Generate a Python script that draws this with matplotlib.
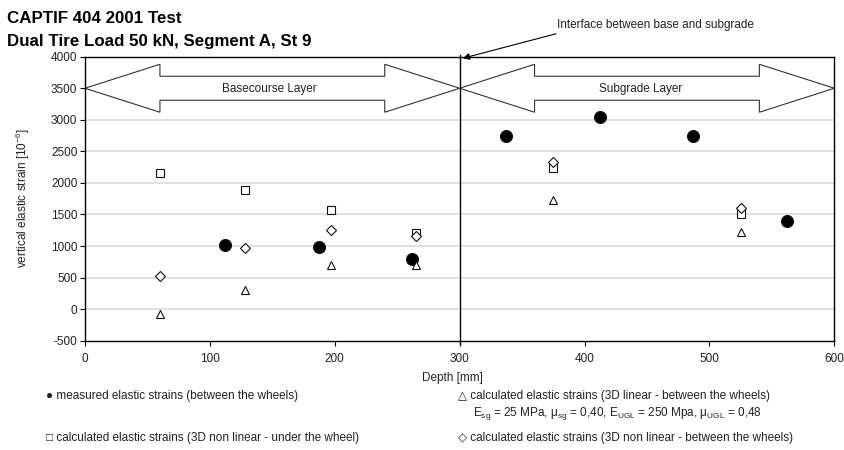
import matplotlib
matplotlib.use("Agg")
from matplotlib import pyplot as plt
import numpy as np

plt.rcParams['font.family'] = ['Liberation Sans', 'DejaVu Sans']
plt.rcParams['mathtext.fontset'] = 'custom'
plt.rcParams['mathtext.rm'] = 'Liberation Sans'
plt.rcParams['mathtext.it'] = 'Liberation Sans:italic'
plt.rcParams['axes.unicode_minus'] = False

# measured strains, between the wheels
measured_depth = [112, 187, 262, 337, 412, 487, 562]
measured_strain = [1010, 985, 800, 2745, 3050, 2745, 1400]

# calculated strains, all at the same depths
calc_depth = [60, 128, 197, 265, 375, 525]
linear_between = [-70, 300, 700, 700, 1730, 1230]
nonlinear_under = [2150, 1890, 1570, 1210, 2240, 1500]
nonlinear_between = [525, 975, 1250, 1160, 2330, 1595]

x_ticks = [0, 100, 200, 300, 400, 500, 600]
y_ticks = [-500, 0, 500, 1000, 1500, 2000, 2500, 3000, 3500, 4000]

W, H = 844, 450
TXT = '#222222'
FS = 8.5


def fx(x):
    return x / W


def fy(y):
    return 1 - y / H


def block_arrow(ax, x0, x1, yc, head_len=60, head_half=380, shaft_half=190):
    """ Double headed block arrow like the Excel autoshape """
    xs = [x0, x0 + head_len, x0 + head_len, x1 - head_len, x1 - head_len, x1,
          x1 - head_len, x1 - head_len, x0 + head_len, x0 + head_len, x0]
    ys = [yc, yc + head_half, yc + shaft_half, yc + shaft_half, yc + head_half, yc,
          yc - head_half, yc - shaft_half, yc - shaft_half, yc - head_half, yc]
    ax.fill(xs, ys, facecolor='white', edgecolor='#333333', lw=0.8, zorder=2)


fig = plt.figure(figsize=(W / 100, H / 100), dpi=100)
ax = fig.add_axes([fx(85), fy(340.7), (834.3 - 85) / W, (340.7 - 56.7) / H])

ax.set_xlim(0, 600)
ax.set_ylim(-500, 4000)
ax.set_xticks(x_ticks)
ax.set_yticks(y_ticks)
for v in y_ticks[1:-1]:
    ax.axhline(v, color='#dadada', lw=1.2, zorder=0)

block_arrow(ax, 0, 300, 3500)
block_arrow(ax, 300, 600, 3500)
ax.text(109.5, 3490, 'Basecourse Layer', ha='left', va='center', fontsize=FS, color=TXT, zorder=3)
ax.text(411.8, 3490, 'Subgrade Layer', ha='left', va='center', fontsize=FS, color=TXT, zorder=3)

ax.axvline(300, ymin=-0.012, ymax=1.007, color='black', lw=1.0, clip_on=False, zorder=3)

mk = dict(ls='none', mec='#111111', mew=0.8, zorder=4, clip_on=False)
ax.plot(measured_depth, measured_strain, marker='o', ms=8.6, mfc='black', **mk)
ax.plot(calc_depth, nonlinear_under, marker='s', ms=5.6, mfc='white', **mk)
ax.plot(calc_depth, nonlinear_between, marker='D', ms=4.6, mfc='white', **mk)
ax.plot(calc_depth, linear_between, marker='^', ms=6.2, mfc='white', **mk)

for s in ax.spines.values():
    s.set_color('black')
    s.set_linewidth(1.0)
ax.tick_params(direction='out', length=3.5, width=0.8, color='black', labelsize=FS, labelcolor=TXT)
ax.tick_params(axis='x', pad=5)
ax.tick_params(axis='y', pad=2)

ax.annotate('Interface between base and subgrade', xy=(302.5, 3975), xytext=(556.7, H - 25),
            textcoords='figure pixels', xycoords='data', fontsize=FS, color=TXT,
            ha='left', va='center', annotation_clip=False,
            arrowprops=dict(arrowstyle='-|>', color='black', lw=0.8, mutation_scale=10,
                            shrinkA=0, shrinkB=0, relpos=(0.05, 0.0)))

fig.text(fx(6.7), fy(18.5), 'CAPTIF 404 2001 Test', fontsize=12.2, fontweight='bold', va='center', ha='left')
fig.text(fx(6.7), fy(41.3), 'Dual Tire Load 50 kN, Segment A, St 9', fontsize=12.2, fontweight='bold',
         va='center', ha='left')

fig.text(fx(23), fy(198), 'vertical elastic strain [10$^{-6}$]', rotation=90, fontsize=FS, color=TXT,
         ha='center', va='center')
fig.text(fx(452), fy(378), 'Depth [mm]', fontsize=FS, color=TXT, ha='center', va='center')

leg = dict(fontsize=FS, color=TXT, va='center', ha='left', family=['Liberation Sans', 'DejaVu Sans'])
fig.text(fx(46), fy(396), '\u25cf measured elastic strains (between the wheels)', **leg)
fig.text(fx(458), fy(396), '\u25b3 calculated elastic strains (3D linear - between the wheels)', **leg)
fig.text(fx(473), fy(413), 'E$_{\\mathrm{sg}}$ = 25 MPa, \u03bc$_{\\mathrm{sg}}$ = 0,40, '
         'E$_{\\mathrm{UGL}}$ = 250 Mpa, \u03bc$_{\\mathrm{UGL}}$ = 0,48', **leg)
fig.text(fx(46), fy(438), '\u25a1 calculated elastic strains (3D non linear - under the wheel)', **leg)
fig.text(fx(458), fy(438), '\u25c7 calculated elastic strains (3D non linear - between the wheels)', **leg)

fig.savefig('out.png', dpi=100)
